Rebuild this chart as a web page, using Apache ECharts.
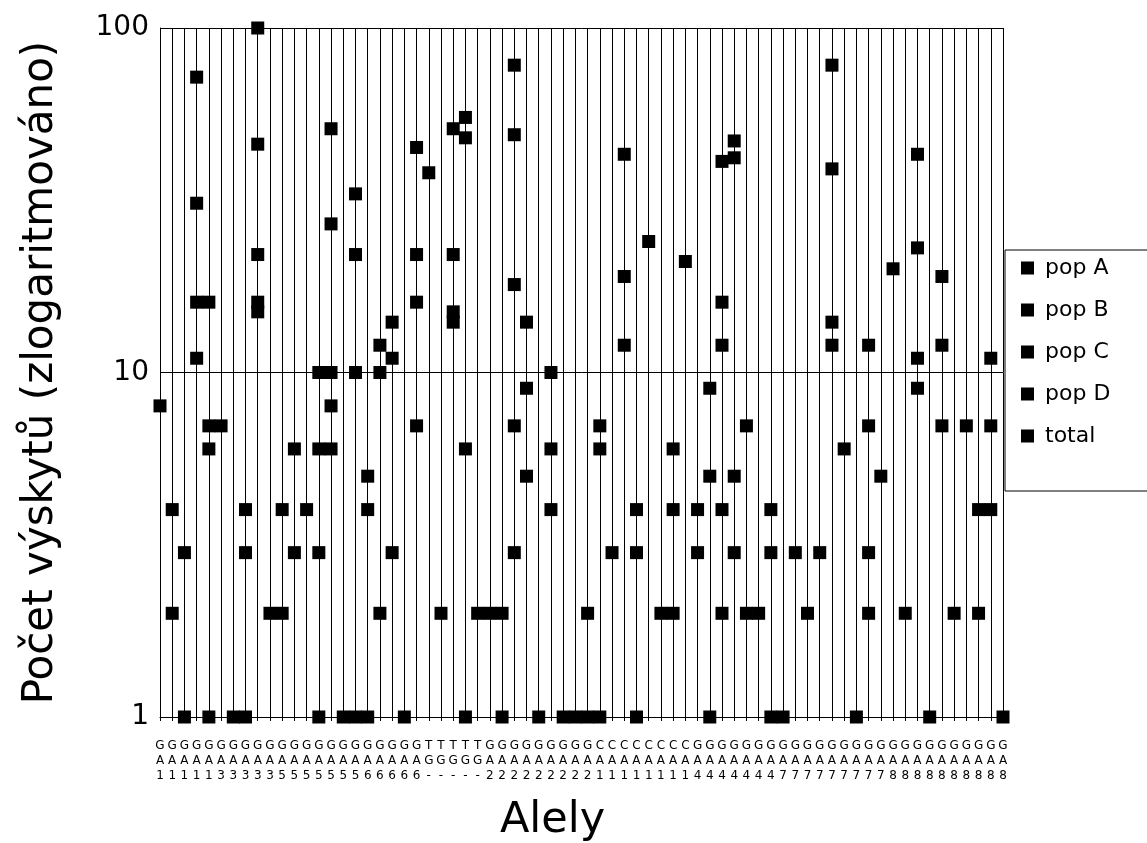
<!DOCTYPE html>
<html>
<head>
<meta charset="utf-8">
<script src="https://cdn.jsdelivr.net/npm/echarts@6/dist/echarts.min.js"></script>
<style>
  html, body { margin: 0; padding: 0; background: #fff; }
  #chart { width: 1147px; height: 843px; }
</style>
</head>
<body>
<div id="chart"></div>
<script>
var _ = null;

// alely (kazdy znak na samostatnem radku pod osou)
var alely = [
  'GA1','GA1','GA1','GA1','GA1',
  'GA3','GA3','GA3','GA3','GA3',
  'GA5','GA5','GA5','GA5','GA5','GA5','GA5',
  'GA6','GA6','GA6','GA6','GA6',
  'TG-','TG-','TG-','TG-','TG-',
  'GA2','GA2','GA2','GA2','GA2','GA2','GA2','GA2','GA2',
  'CA1','CA1','CA1','CA1','CA1','CA1','CA1','CA1',
  'GA4','GA4','GA4','GA4','GA4','GA4','GA4',
  'GA7','GA7','GA7','GA7','GA7','GA7','GA7','GA7','GA7',
  'GA8','GA8','GA8','GA8','GA8','GA8','GA8','GA8','GA8','GA8'
];

var popA = [_,2,1,31,7,_,_,3,46,_, 2,3,_,6,27,_,22,4,10,11, _,22,_,_,22,48,_,_,1,49, 9,_,6,_,_,1,6,_,19,3, _,_,4,_,3,5,16,42,2,_, 3,_,_,_,_,39,_,_,7,_, _,_,23,_,12,_,_,2,7,_];
var popB = [_,_,_,16,6,_,_,1,22,_, _,_,_,3,10,_,10,1,2,3, _,16,_,_,15,6,_,_,_,18, 5,_,4,_,_,_,1,_,12,1, _,_,2,_,_,1,12,5,_,_, 1,_,_,_,_,14,_,_,3,_, _,_,11,_,7,_,_,_,4,_];
var popC = [_,_,_,11,1,_,_,_,16,_, _,_,_,1,8,_,1,_,_,_, _,7,_,_,14,1,_,_,_,7, _,_,_,_,_,_,_,_,_,_, _,_,_,_,_,_,4,3,_,_, _,_,_,_,_,12,_,_,2,_, _,_,9,_,_,_,_,_,_,_];
var popD = [_,_,_,_,_,_,_,_,15,_, _,_,_,_,6,_,_,_,_,_, _,_,_,_,_,_,_,_,_,3, _,_,_,_,_,_,_,_,_,_, _,_,_,_,_,_,2,_,_,_, _,_,_,_,_,_,_,_,_,_, _,_,_,_,_,_,_,_,_,_];
var total = [8,4,3,72,16,7,1,4,100,2, 4,6,4,10,51,1,33,5,12,14, 1,45,38,2,51,55,2,2,2,78, 14,1,10,1,1,2,7,3,43,4, 24,2,6,21,4,9,41,47,7,2, 4,1,3,2,3,78,6,1,12,5, 20,2,43,1,19,2,7,4,11,1];

var seriesNames = ['pop A', 'pop B', 'pop C', 'pop D', 'total'];
var seriesData = [popA, popB, popC, popD, total];

var font = 'DejaVu Sans';
var myChart = echarts.init(document.getElementById('chart'));

var option = {
    backgroundColor: '#ffffff',
    animation: false,
    textStyle: { fontFamily: font, color: '#000' },
    grid: { left: 160, right: 144, top: 28, bottom: 126, containLabel: false, outerBoundsMode: 'none' },
    legend: {
        orient: 'vertical',
        left: 1005,
        top: 250,
        padding: [7, 40, 44, 16],
        itemGap: 20,
        itemWidth: 13,
        itemHeight: 13,
        icon: 'rect',
        borderColor: '#000',
        borderWidth: 1,
        textStyle: { fontFamily: font, fontSize: 22, color: '#000', padding: [0, 0, 0, 6] },
        data: seriesNames
    },
    xAxis: {
        type: 'category',
        data: alely,
        boundaryGap: false,
        name: 'Alely',
        nameLocation: 'middle',
        nameGap: 82,
        nameTextStyle: { fontFamily: font, fontSize: 43, color: '#000', padding: [0, 58, 0, 0] },
        axisLine: { lineStyle: { color: '#000', width: 1 } },
        axisTick: { show: true, length: 4, lineStyle: { color: '#000' } },
        axisLabel: {
            interval: 0,
            margin: 21,
            fontFamily: font,
            fontSize: 12,
            lineHeight: 15,
            color: '#000',
            formatter: function (v) { return v.split('').join('\n'); }
        },
        splitLine: { show: true, lineStyle: { color: '#000', width: 1 } }
    },
    yAxis: {
        type: 'log',
        logBase: 10,
        min: 1,
        max: 100,
        name: 'Počet výskytů (zlogaritmováno)',
        nameLocation: 'middle',
        nameGap: 98,
        nameTextStyle: { fontFamily: font, fontSize: 42, color: '#000' },
        axisLine: { show: true, lineStyle: { color: '#000', width: 1 } },
        axisTick: { show: false },
        axisLabel: { fontFamily: font, fontSize: 28, color: '#000', margin: 11 },
        splitLine: { show: true, lineStyle: { color: '#000', width: 1 } }
    },
    series: seriesNames.map(function (name, i) {
        return {
            name: name,
            type: 'scatter',
            symbol: 'rect',
            symbolSize: 13,
            itemStyle: { color: '#000', opacity: 1 },
            data: seriesData[i]
        };
    })
};

myChart.setOption(option);
</script>
</body>
</html>
